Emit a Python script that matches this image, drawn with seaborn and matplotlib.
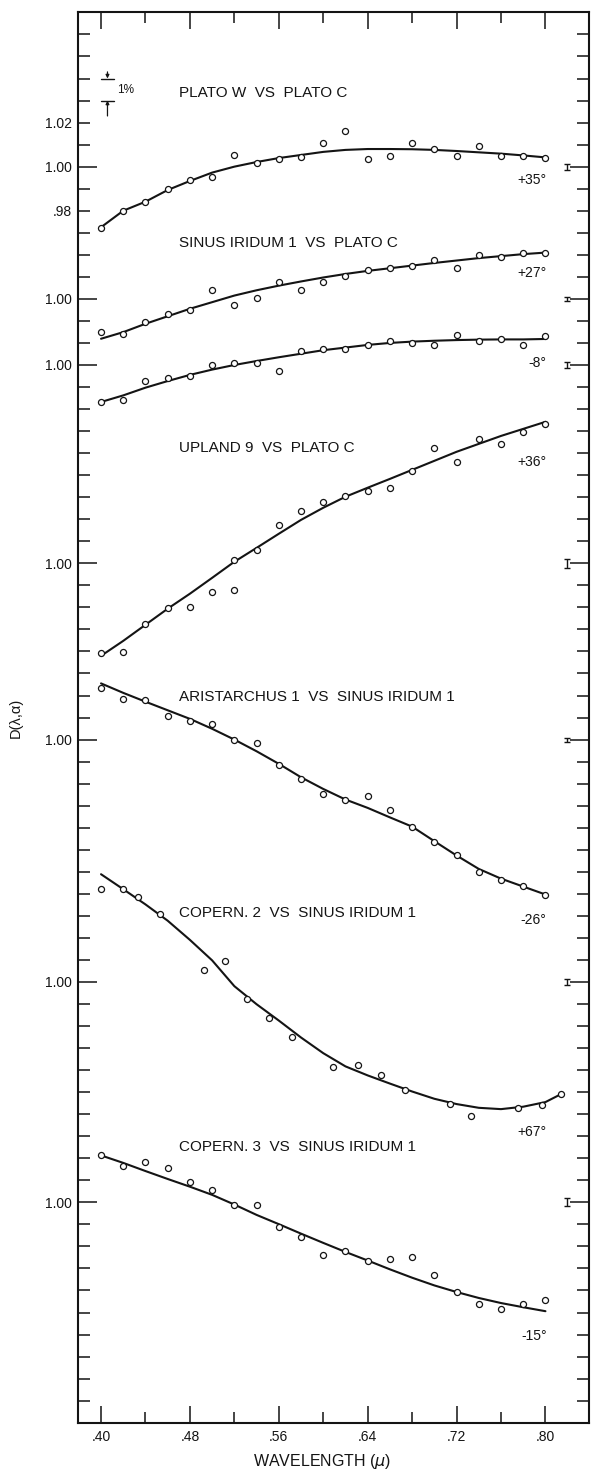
import matplotlib
matplotlib.use("Agg")
import matplotlib.pyplot as plt
import numpy as np
import seaborn as sns

sns.set_style("white")
plt.rcParams["font.family"] = ["Liberation Sans", "DejaVu Sans"]
plt.rcParams["mathtext.fontset"] = "dejavusans"

INK = "#141414"

# Filter wavelengths (microns)
wavelength = [0.40, 0.42, 0.44, 0.46, 0.48, 0.50, 0.52, 0.54, 0.56, 0.58, 0.60,
              0.62, 0.64, 0.66, 0.68, 0.70, 0.72, 0.74, 0.76, 0.78, 0.80]

# Plato W vs Plato C, phase +35
plato_w_obs = [0.9720, 0.9800, 0.9838, 0.9900, 0.9938, 0.9955, 1.0053, 1.0017, 1.0033, 1.0045, 1.0106,
               1.0162, 1.0033, 1.0050, 1.0106, 1.0079, 1.0050, 1.0095, 1.0050, 1.0050, 1.0041]
plato_w_fit = [0.9725, 0.9800, 0.9841, 0.9894, 0.9935, 0.9973, 1.0000, 1.0021, 1.0039, 1.0053, 1.0067,
               1.0076, 1.0080, 1.0080, 1.0079, 1.0076, 1.0071, 1.0065, 1.0059, 1.0051, 1.0042]

# Sinus Iridum 1 vs Plato C, phase +27
sinus_p27_obs = [0.9849, 0.9840, 0.9893, 0.9930, 0.9949, 1.0041, 0.9970, 1.0005, 1.0076, 1.0041, 1.0076,
                 1.0104, 1.0129, 1.0141, 1.0148, 1.0175, 1.0139, 1.0201, 1.0191, 1.0210, 1.0210]
sinus_p27_fit = [0.9819, 0.9849, 0.9887, 0.9921, 0.9955, 0.9985, 1.0015, 1.0039, 1.0060, 1.0079, 1.0097,
                 1.0113, 1.0127, 1.0139, 1.0151, 1.0163, 1.0174, 1.0185, 1.0194, 1.0203, 1.0210]

# Sinus Iridum 1 vs Plato C, phase -8
sinus_m8_obs = [0.9832, 0.9843, 0.9926, 0.9943, 0.9952, 1.0000, 1.0009, 1.0009, 0.9973, 1.0064, 1.0074,
                1.0074, 1.0092, 1.0109, 1.0101, 1.0091, 1.0138, 1.0109, 1.0116, 1.0089, 1.0133]
sinus_m8_fit = [0.9832, 0.9862, 0.9897, 0.9927, 0.9955, 0.9979, 1.0000, 1.0018, 1.0035, 1.0051, 1.0067,
                1.0079, 1.0091, 1.0100, 1.0106, 1.0110, 1.0113, 1.0115, 1.0116, 1.0116, 1.0118]

# Upland 9 vs Plato C, phase +36 (two readings at 0.52)
upland_wl = [0.40, 0.42, 0.44, 0.46, 0.48, 0.50, 0.52, 0.52, 0.54, 0.56, 0.58,
             0.60, 0.62, 0.64, 0.66, 0.68, 0.70, 0.72, 0.74, 0.76, 0.78, 0.80]
upland_obs = [0.9595, 0.9598, 0.9724, 0.9797, 0.9803, 0.9872, 0.9881, 1.0013, 1.0060, 1.0175, 1.0237,
              1.0279, 1.0305, 1.0328, 1.0341, 1.0417, 1.0521, 1.0459, 1.0564, 1.0541, 1.0595, 1.0634]
upland_fit = [0.9580, 0.9648, 0.9721, 0.9794, 0.9862, 0.9934, 1.0007, 1.0070, 1.0134, 1.0197, 1.0252,
              1.0302, 1.0343, 1.0383, 1.0424, 1.0465, 1.0506, 1.0542, 1.0578, 1.0610, 1.0642]

# Aristarchus 1 vs Sinus Iridum 1, phase -26
arist_obs = [1.0233, 1.0185, 1.0181, 1.0109, 1.0084, 1.0071, 1.0000, 0.9985, 0.9885, 0.9819, 0.9752,
             0.9728, 0.9743, 0.9682, 0.9604, 0.9534, 0.9474, 0.9398, 0.9363, 0.9334, 0.9294]
arist_fit = [1.0255, 1.0212, 1.0172, 1.0133, 1.0094, 1.0049, 1.0000, 0.9947, 0.9890, 0.9829, 0.9776,
             0.9728, 0.9690, 0.9647, 0.9605, 0.9539, 0.9474, 0.9413, 0.9369, 0.9333, 0.9297]

# Copernicus 2 vs Sinus Iridum 1, phase +67 (different filter set)
cop2_wl = [0.400, 0.420, 0.433, 0.453, 0.493, 0.512, 0.531, 0.551, 0.572,
           0.609, 0.631, 0.652, 0.674, 0.714, 0.733, 0.775, 0.797, 0.814]
cop2_obs = [1.0421, 1.0421, 1.0385, 1.0308, 1.0055, 1.0093, 0.9925, 0.9836, 0.9751,
            0.9613, 0.9622, 0.9577, 0.9508, 0.9446, 0.9394, 0.9427, 0.9444, 0.9491]
cop2_fit_wl = [0.40, 0.42, 0.44, 0.46, 0.48, 0.50, 0.52, 0.54, 0.56, 0.58, 0.60,
               0.62, 0.64, 0.66, 0.68, 0.70, 0.72, 0.74, 0.76, 0.78, 0.80, 0.814]
cop2_fit = [1.0489, 1.0421, 1.0352, 1.0278, 1.0191, 1.0098, 0.9981, 0.9899, 0.9825, 0.9748, 0.9677,
            0.9617, 0.9576, 0.9539, 0.9503, 0.9470, 0.9446, 0.9429, 0.9423, 0.9434, 0.9455, 0.9491]

# Copernicus 3 vs Sinus Iridum 1, phase -15
cop3_obs = [1.0213, 1.0167, 1.0185, 1.0156, 1.0093, 1.0054, 0.9987, 0.9987, 0.9886, 0.9841, 0.9762,
            0.9780, 0.9736, 0.9744, 0.9753, 0.9672, 0.9593, 0.9539, 0.9515, 0.9539, 0.9557]
cop3_fit = [1.0213, 1.0179, 1.0142, 1.0106, 1.0071, 1.0034, 0.9990, 0.9943, 0.9901, 0.9858, 0.9816,
            0.9775, 0.9736, 0.9696, 0.9658, 0.9623, 0.9593, 0.9566, 0.9543, 0.9524, 0.9506]

phase_labels = ["+35°", "+27°", "-8°", "+36°", "-26°", "+67°", "-15°"]
pair_titles = ["PLATO W  VS  PLATO C", "SINUS IRIDUM 1  VS  PLATO C", "UPLAND 9  VS  PLATO C",
               "ARISTARCHUS 1  VS  SINUS IRIDUM 1", "COPERN. 2  VS  SINUS IRIDUM 1",
               "COPERN. 3  VS  SINUS IRIDUM 1"]
# typical one-sigma uncertainty of each ratio
sigma = [0.0014, 0.0010, 0.0013, 0.0020, 0.0009, 0.0015, 0.0018]

# vertical stacking: each curve has its own 1.00 level; one tick = 0.01
levels = [57, 51, 48, 39, 31, 20, 10]
phase_pos = [56.38, 52.18, 48.07, 43.60, 22.81, 13.20, 3.93]
title_pos = [60.34, 53.54, 44.21, 32.91, 23.11, 12.50]
n_ticks = 64

curves = [
    (wavelength, plato_w_obs, wavelength, plato_w_fit),
    (wavelength, sinus_p27_obs, wavelength, sinus_p27_fit),
    (wavelength, sinus_m8_obs, wavelength, sinus_m8_fit),
    (upland_wl, upland_obs, wavelength, upland_fit),
    (wavelength, arist_obs, wavelength, arist_fit),
    (cop2_wl, cop2_obs, cop2_fit_wl, cop2_fit),
    (wavelength, cop3_obs, wavelength, cop3_fit),
]


def to_stack(values, level):
    return level + (np.asarray(values) - 1.0) * 100.0


W, H = 592, 1469
fig = plt.figure(figsize=(W / 100, H / 100), dpi=100)
ax = fig.add_axes([77.7 / W, (H - 1422.7) / H, (589.0 - 77.7) / W, (1422.7 - 12.4) / H])
ax.set_facecolor("white")

for (wl_o, obs, wl_f, fit), lev in zip(curves, levels):
    sns.lineplot(x=wl_f, y=to_stack(fit, lev), ax=ax, color=INK, linewidth=1.5,
                 sort=False, estimator=None, zorder=2)
    sns.scatterplot(x=wl_o, y=to_stack(obs, lev), ax=ax, marker="o", s=19,
                    color="white", edgecolor=INK, linewidth=0.9, zorder=3)

# error indicators next to the right axis
err_x = 0.8195
for lev, s in zip(levels, sigma):
    ax.errorbar([err_x], [lev], yerr=[s * 100], fmt="none", ecolor=INK,
                elinewidth=1.0, capsize=2.0, capthick=1.0, zorder=3)

for lab, yp in zip(phase_labels, phase_pos):
    ax.text(0.801, yp, lab, ha="right", va="center", fontsize=10, color=INK)

for lab, yp in zip(pair_titles, title_pos):
    ax.text(0.470, yp, lab, ha="left", va="center", fontsize=11, color=INK)

# 1% scale marker
scale_x, scale_top, one_pct = 0.4058, 61.0, 1.0
half = 0.0058
ax.plot([scale_x - half, scale_x + half], [scale_top, scale_top], color=INK, lw=1.0)
ax.plot([scale_x - half, scale_x + half], [scale_top - one_pct] * 2, color=INK, lw=1.0)
ax.annotate("", xy=(scale_x, scale_top), xytext=(scale_x, scale_top + 0.3),
            arrowprops=dict(arrowstyle="-|>", color=INK, lw=0.9, mutation_scale=5,
                            shrinkA=0, shrinkB=0))
ax.annotate("", xy=(scale_x, scale_top - one_pct), xytext=(scale_x, scale_top - one_pct - 0.7),
            arrowprops=dict(arrowstyle="-|>", color=INK, lw=0.9, mutation_scale=5,
                            shrinkA=0, shrinkB=0))
ax.text(0.4145, scale_top - one_pct / 2 - 0.03, "1%", ha="left", va="center", fontsize=8.5, color=INK)

# axes
ax.set_xlim(0.3790, 0.8392)
ax.set_ylim(0, n_ticks)

major_x = [0.40, 0.48, 0.56, 0.64, 0.72, 0.80]
ax.set_xticks(major_x, labels=[".40", ".48", ".56", ".64", ".72", ".80"])
ax.set_xticks([0.44, 0.52, 0.60, 0.68, 0.76], minor=True)

ax.set_yticks(levels, labels=["1.00"] * len(levels))
minor_y = [k for k in range(1, n_ticks) if k not in levels]
minor_lab = [{59: "1.02", 55: ".98"}.get(k, "") for k in minor_y]
ax.set_yticks(minor_y, labels=minor_lab, minor=True)

ax.tick_params(axis="x", which="major", direction="in", length=12.2, width=1.1,
               top=True, bottom=True, labelsize=10, pad=5, colors=INK)
ax.tick_params(axis="x", which="minor", direction="in", length=7.9, width=1.1,
               top=True, bottom=True, colors=INK)
ax.tick_params(axis="y", which="major", direction="in", length=13.7, width=1.1,
               left=True, right=True, labelsize=10, pad=4.3, colors=INK)
ax.tick_params(axis="y", which="minor", direction="in", length=8.6, width=1.1,
               left=True, right=True, labelsize=10, pad=4.3, colors=INK)

for sp in ax.spines.values():
    sp.set_visible(True)
    sp.set_linewidth(1.5)
    sp.set_color(INK)

ax.set_xlabel(r"WAVELENGTH ($\mu$)", fontsize=11.5, color=INK)
ax.xaxis.set_label_coords(0.478, -0.021)
ax.set_ylabel("D(λ,α)", fontsize=10.5, color=INK)
ax.yaxis.set_label_coords(-0.108, 0.5)

fig.savefig("out.png", dpi=100, facecolor="white")
